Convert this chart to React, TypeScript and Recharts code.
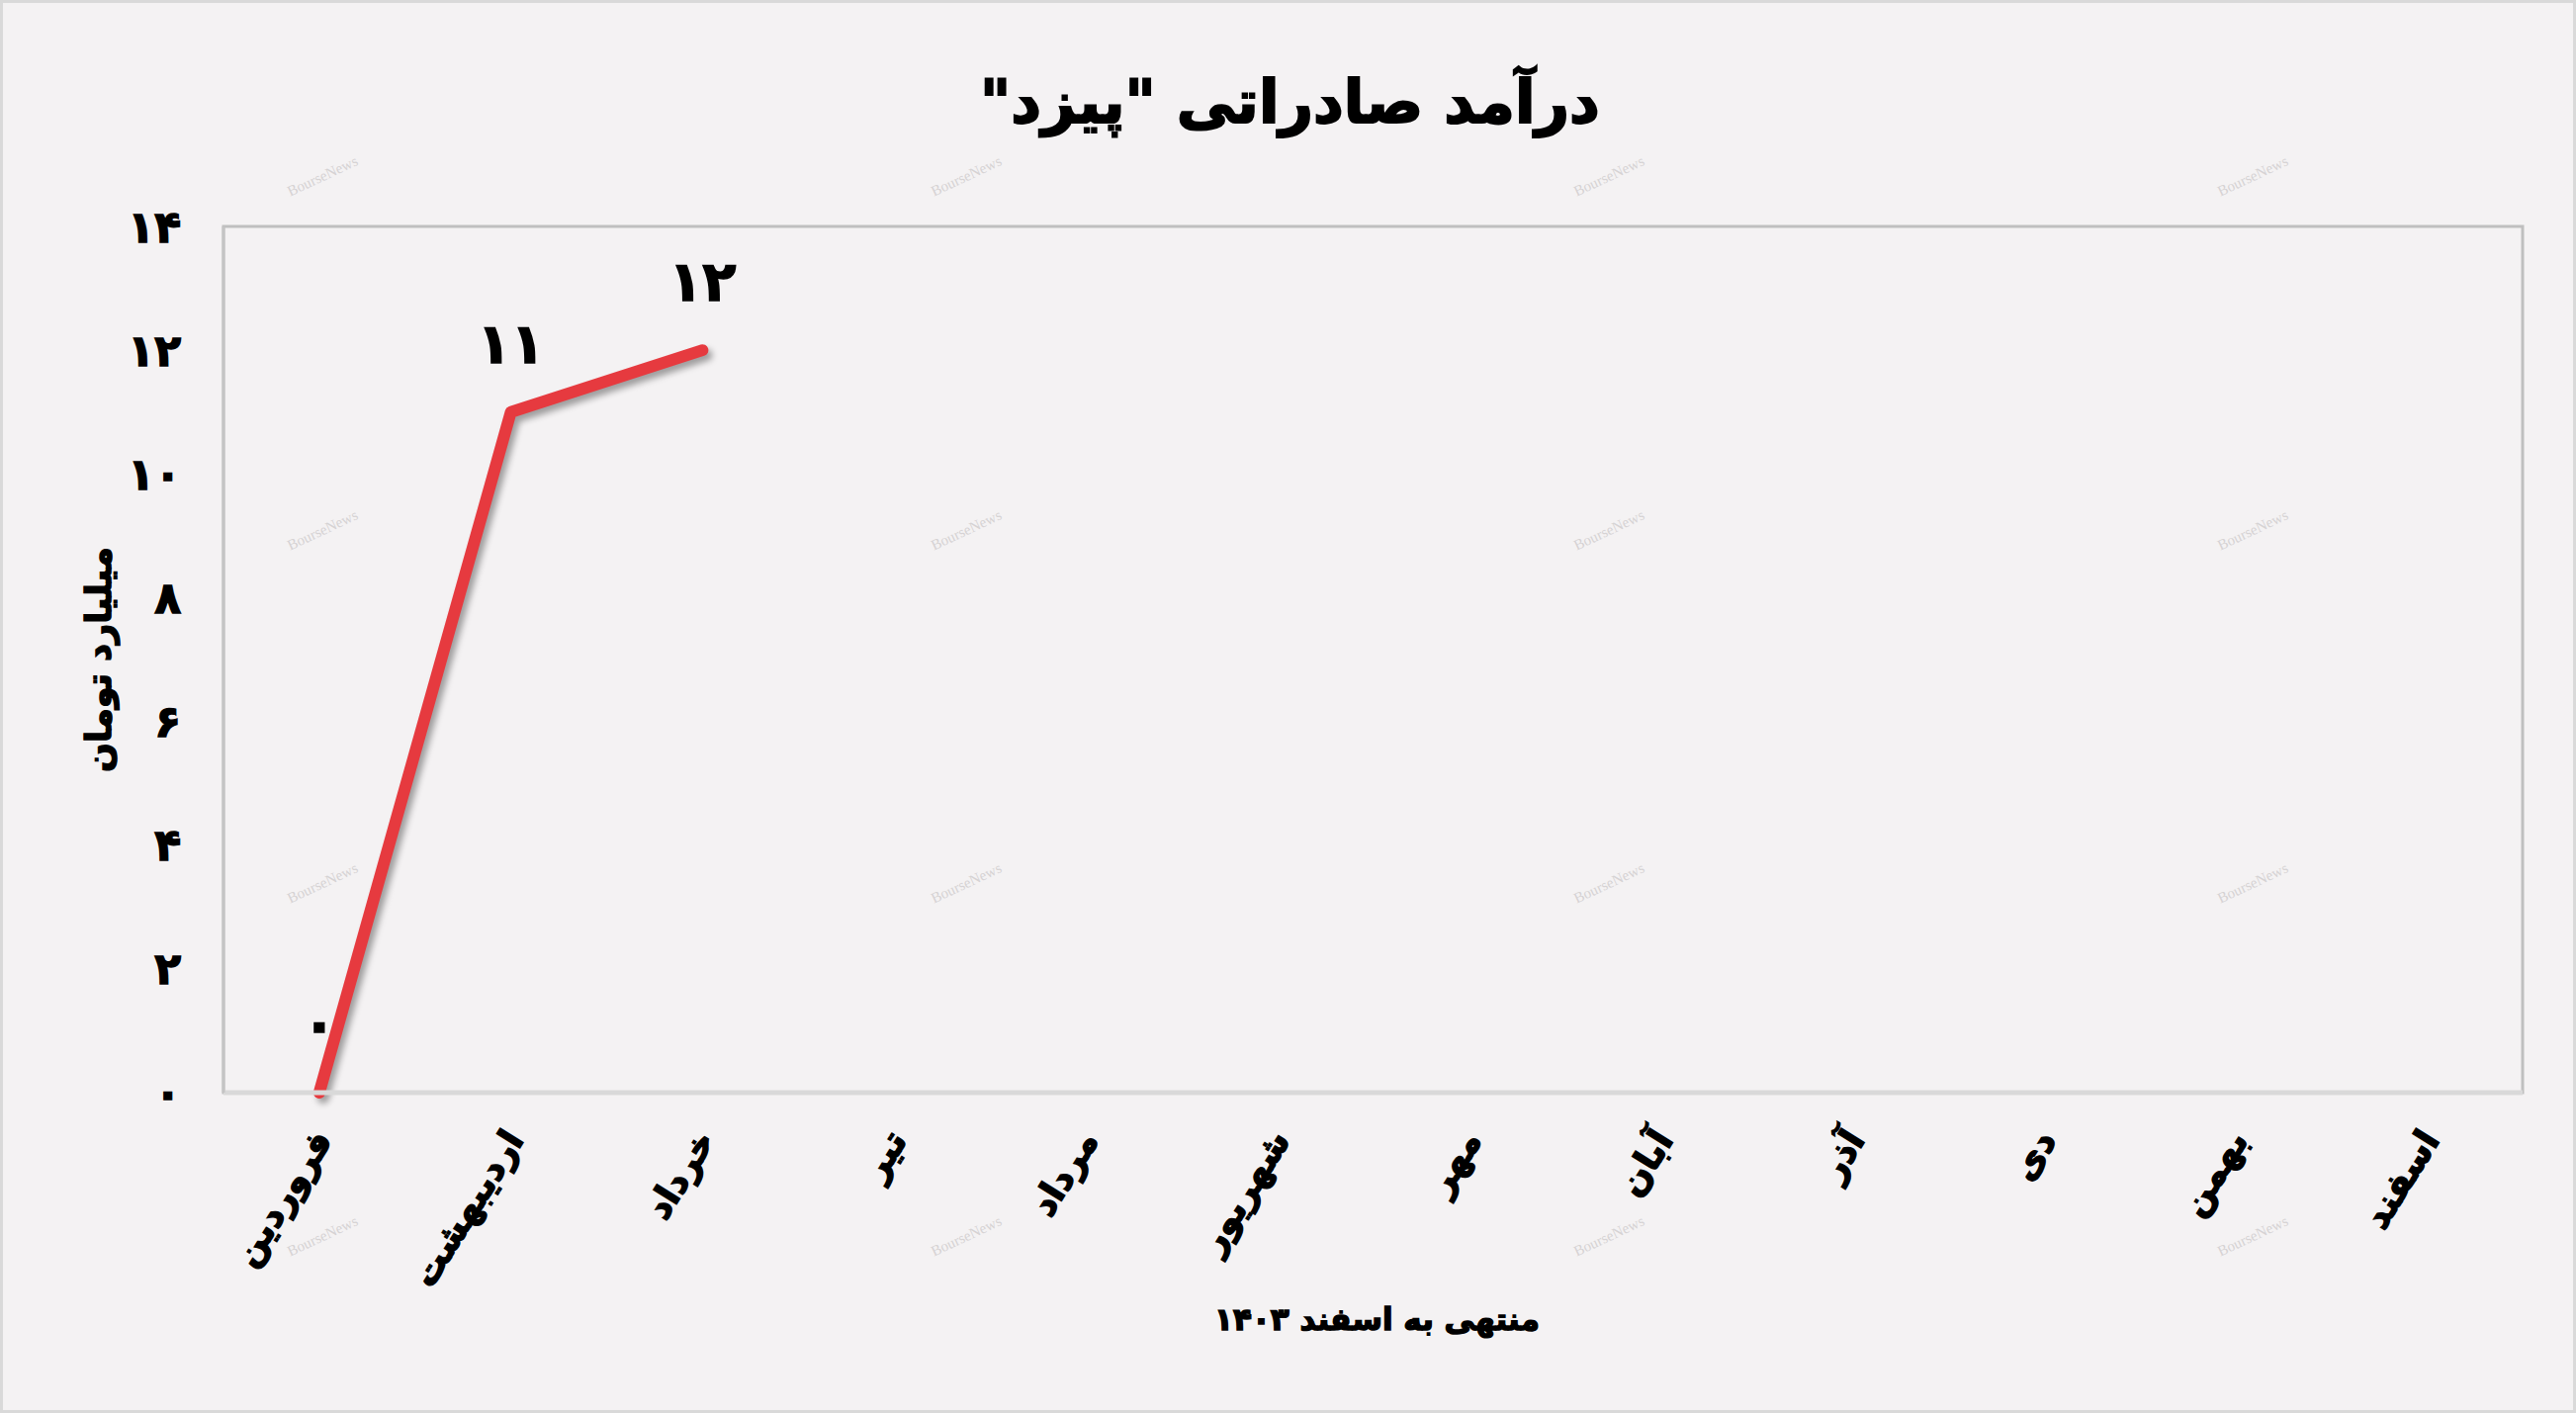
import { LineChart, Line, XAxis, YAxis, LabelList, Label, ReferenceArea } from 'recharts'

const MONTHS = ['فروردین', 'اردیبهشت', 'خرداد', 'تیر', 'مرداد', 'شهریور', 'مهر', 'آبان', 'آذر', 'دی', 'بهمن', 'اسفند']
const REVENUE: (number | null)[] = [0, 11, 12, null, null, null, null, null, null, null, null, null]
const Y_TICKS = [0, 2, 4, 6, 8, 10, 12, 14]

const TITLE = 'درآمد صادراتی "پیزد"'
const Y_LABEL = 'میلیارد تومان'
const X_LABEL = 'منتهی به اسفند ۱۴۰۳'

const W = 2605
const H = 1429
const FONT = '"DejaVu Sans", sans-serif'
const BG = '#f4f2f3'

const toFa = (v: number | string) => String(v).replace(/\d/g, d => '۰۱۲۳۴۵۶۷۸۹'[Number(d)])

const data = MONTHS.map((month, i) => ({ month, value: REVENUE[i] }))

// watermark grid, purely decorative
const WM_COLS = [324, 975, 1625, 2276]
const WM_ROWS = [179, 537, 894, 1251]

// faux-heavy weight to get nearer the Titr-style face of the original
const heavy = { fontFamily: FONT, fontWeight: 'bold' as const, stroke: '#000', strokeWidth: 1.5, fill: '#000' }

function MonthTick({ x, y, payload }: any) {
  return (
    <g transform={`translate(${x + 14},${y + 46})`}>
      <text transform="rotate(-58)" textAnchor="end" fontSize={36} {...heavy}>
        {payload.value}
      </text>
    </g>
  )
}

export default function App() {
  return (
    <div style={{ position: 'relative', width: W, height: H, background: BG }}>
      <style>{`body{margin:0} .recharts-line-curve{filter:drop-shadow(4px 5px 3px rgba(0,0,0,0.35))}`}</style>
      <LineChart width={W} height={H} data={data} margin={{ top: 229, right: 54, left: 126, bottom: 124 }}>
        <text x={W / 2 + 2} y={103} textAnchor="middle" dominantBaseline="central" direction="rtl"
          fontSize={60} {...heavy} strokeWidth={2}>
          {TITLE}
        </text>
        <ReferenceArea x1={MONTHS[0]} x2={MONTHS[MONTHS.length - 1]} y1={0} y2={14}
          fill="none" stroke="#bfbfbf" strokeWidth={3} ifOverflow="visible" />
        <XAxis dataKey="month" scale="band" height={200} tickSize={0} interval={0} tick={<MonthTick />}
          axisLine={{ stroke: '#d9d9d9', strokeWidth: 5 }}>
          <Label content={({ viewBox }: any) => (
            <text x={viewBox.x + viewBox.width / 2 + 4} y={viewBox.y + 229} textAnchor="middle" dominantBaseline="central"
              fontSize={31} {...heavy}>{X_LABEL}</text>
          )} />
        </XAxis>
        <YAxis domain={[0, 14]} ticks={Y_TICKS} width={100} tickSize={0} tickMargin={43} tickFormatter={toFa}
          tick={{ fontSize: 44, ...heavy }}
          axisLine={{ stroke: '#c4c4c4', strokeWidth: 3 }}>
          <Label content={({ viewBox }: any) => {
            const cx = viewBox.x - 26
            const cy = viewBox.y + viewBox.height / 2
            return (
              <text x={cx} y={cy} transform={`rotate(-90 ${cx} ${cy})`} textAnchor="middle" dominantBaseline="central"
                fontSize={35} {...heavy}>{Y_LABEL}</text>
            )
          }} />
        </YAxis>
        <Line type="linear" dataKey="value" stroke="#e63a3f" strokeWidth={12} dot={false}
          strokeLinecap="round" strokeLinejoin="round" isAnimationActive={false}>
          <LabelList dataKey="value" position="top" offset={50}
            formatter={(v: any) => (v == null ? '' : toFa(v))}
            style={{ fontSize: 56, ...heavy }} />
        </Line>
      </LineChart>
      {WM_ROWS.flatMap(top => WM_COLS.map(left => (
        <div key={`${left}-${top}`} style={{
          position: 'absolute', left: left - 36, top: top - 9, transform: 'rotate(-25deg)',
          fontFamily: '"Liberation Serif", serif', fontSize: 15, color: '#d6d3d4', pointerEvents: 'none',
        }}>BourseNews</div>
      )))}
      <div style={{ position: 'absolute', inset: 0, border: '3px solid #d9d9d9', pointerEvents: 'none' }} />
    </div>
  )
}
